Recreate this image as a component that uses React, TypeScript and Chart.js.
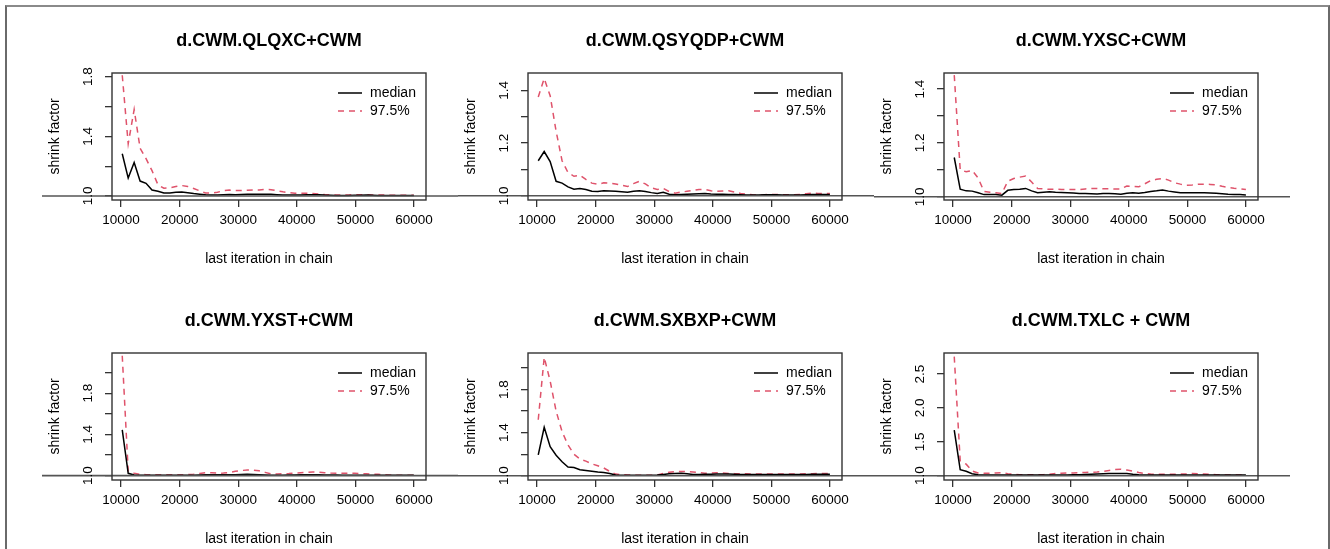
import React, { useEffect, useRef } from "react";
import { Chart, registerables } from "chart.js";

Chart.register(...registerables);

// ---------- data ----------
const ITERATIONS = [
  10200, 11216, 12232, 13248, 14264, 15280, 16296, 17312, 18328, 19344,
  20360, 21376, 22392, 23408, 24424, 25440, 26456, 27472, 28488, 29504,
  30520, 31536, 32552, 33568, 34584, 35600, 36616, 37632, 38648, 39664,
  40680, 41696, 42712, 43728, 44744, 45760, 46776, 47792, 48808, 49824,
  50840, 51856, 52872, 53888, 54904, 55920, 56936, 57952, 58968, 59984,
];

const X_TICKS = [10000, 20000, 30000, 40000, 50000, 60000];

const TITLES = [
  "d.CWM.QLQXC+CWM",
  "d.CWM.QSYQDP+CWM",
  "d.CWM.YXSC+CWM",
  "d.CWM.YXST+CWM",
  "d.CWM.SXBXP+CWM",
  "d.CWM.TXLC + CWM",
];

const QLQXC_MEDIAN = [
  1.283, 1.12, 1.225, 1.1, 1.085, 1.04, 1.032, 1.02, 1.02, 1.025,
  1.026, 1.022, 1.016, 1.012, 1.008, 1.006, 1.007, 1.009, 1.01, 1.009,
  1.01, 1.011, 1.012, 1.011, 1.012, 1.011, 1.009, 1.007, 1.006, 1.006,
  1.007, 1.008, 1.009, 1.008, 1.006, 1.005, 1.004, 1.004, 1.004, 1.005,
  1.005, 1.006, 1.005, 1.004, 1.003, 1.003, 1.003, 1.003, 1.003, 1.003,
];
const QLQXC_Q975 = [
  1.81, 1.35, 1.58, 1.32, 1.25, 1.17, 1.075, 1.052, 1.055, 1.063,
  1.07, 1.064, 1.05, 1.035, 1.02, 1.02, 1.025, 1.035, 1.04, 1.036,
  1.036, 1.038, 1.04, 1.04, 1.045, 1.042, 1.035, 1.028, 1.022, 1.018,
  1.018, 1.018, 1.016, 1.013, 1.01, 1.008, 1.006, 1.006, 1.007, 1.008,
  1.008, 1.008, 1.007, 1.006, 1.006, 1.005, 1.005, 1.005, 1.005, 1.005,
];

const QSYQDP_MEDIAN = [
  1.133, 1.168, 1.13, 1.055, 1.048, 1.034, 1.025, 1.028, 1.024, 1.017,
  1.016, 1.019, 1.018, 1.017, 1.015, 1.013, 1.017, 1.019, 1.016, 1.012,
  1.009, 1.013, 1.006, 1.004, 1.005, 1.006, 1.007, 1.008, 1.009, 1.007,
  1.006, 1.006, 1.005, 1.005, 1.004, 1.003, 1.003, 1.003, 1.004, 1.004,
  1.004, 1.003, 1.003, 1.003, 1.003, 1.004, 1.005, 1.005, 1.005, 1.005,
];
const QSYQDP_Q975 = [
  1.375, 1.445, 1.38, 1.245, 1.133, 1.088, 1.074, 1.078, 1.062, 1.048,
  1.044, 1.049, 1.048, 1.045, 1.04, 1.035, 1.046, 1.055, 1.045, 1.03,
  1.024, 1.028, 1.016, 1.01, 1.014, 1.017, 1.02, 1.024, 1.024, 1.019,
  1.017, 1.018, 1.019, 1.014, 1.009, 1.006, 1.004, 1.003, 1.004, 1.005,
  1.005, 1.004, 1.004, 1.004, 1.005, 1.008, 1.01, 1.009, 1.009, 1.009,
];

const YXSC_MEDIAN = [
  1.146, 1.028, 1.022, 1.021, 1.015, 1.008, 1.008, 1.008, 1.006, 1.024,
  1.027, 1.028, 1.031, 1.022, 1.015, 1.017, 1.019, 1.017, 1.016, 1.015,
  1.014, 1.012, 1.012, 1.011, 1.01, 1.012, 1.012, 1.011, 1.009, 1.013,
  1.015, 1.013, 1.016, 1.02, 1.022, 1.025, 1.021, 1.018, 1.015, 1.015,
  1.015, 1.015, 1.015, 1.014, 1.013, 1.011, 1.009, 1.008, 1.008, 1.007,
];
const YXSC_Q975 = [
  1.452, 1.1, 1.093, 1.098, 1.07, 1.02, 1.017, 1.015, 1.012, 1.058,
  1.068, 1.073, 1.077, 1.055, 1.031, 1.029, 1.028, 1.028, 1.027, 1.027,
  1.027, 1.027, 1.029, 1.031, 1.031, 1.03, 1.03, 1.029, 1.029, 1.04,
  1.039, 1.037, 1.048, 1.06, 1.065, 1.068, 1.062, 1.052, 1.047, 1.043,
  1.044, 1.047, 1.047, 1.046, 1.044, 1.039, 1.035, 1.032, 1.03, 1.027,
];

const YXST_MEDIAN = [
  1.444, 1.023, 1.006, 1.003, 1.003, 1.003, 1.003, 1.003, 1.003, 1.003,
  1.003, 1.004, 1.005, 1.007, 1.009, 1.01, 1.01, 1.009, 1.009, 1.01,
  1.012, 1.013, 1.012, 1.01, 1.007, 1.005, 1.005, 1.005, 1.006, 1.007,
  1.008, 1.009, 1.009, 1.008, 1.007, 1.006, 1.006, 1.005, 1.005, 1.005,
  1.005, 1.004, 1.004, 1.003, 1.003, 1.003, 1.003, 1.003, 1.003, 1.003,
];
const YXST_Q975 = [
  2.163, 1.045, 1.023, 1.013, 1.01, 1.01, 1.01, 1.008, 1.008, 1.008,
  1.009, 1.01, 1.015, 1.022, 1.03, 1.028, 1.024, 1.025, 1.032, 1.042,
  1.05, 1.055, 1.054, 1.047, 1.032, 1.018, 1.016, 1.018, 1.02, 1.024,
  1.028, 1.032, 1.036, 1.034, 1.029, 1.025, 1.023, 1.023, 1.023, 1.023,
  1.02, 1.018, 1.016, 1.013, 1.009, 1.006, 1.005, 1.005, 1.005, 1.005,
];

const SXBXP_MEDIAN = [
  1.193, 1.45, 1.27, 1.19, 1.13, 1.08, 1.076, 1.055, 1.048, 1.042,
  1.035, 1.03, 1.02, 1.007, 1.005, 1.005, 1.005, 1.005, 1.005, 1.005,
  1.006, 1.012, 1.019, 1.021, 1.022, 1.017, 1.012, 1.012, 1.013, 1.014,
  1.015, 1.016, 1.015, 1.013, 1.012, 1.012, 1.012, 1.012, 1.012, 1.012,
  1.012, 1.012, 1.012, 1.012, 1.012, 1.012, 1.013, 1.013, 1.013, 1.013,
];
const SXBXP_Q975 = [
  1.52, 2.1, 1.88, 1.6, 1.41, 1.285, 1.2, 1.155, 1.135, 1.11,
  1.092, 1.072, 1.04, 1.015, 1.009, 1.006, 1.005, 1.005, 1.005, 1.005,
  1.006, 1.02, 1.033, 1.038, 1.04, 1.038, 1.034, 1.028, 1.023, 1.024,
  1.027, 1.026, 1.021, 1.019, 1.018, 1.017, 1.016, 1.016, 1.016, 1.016,
  1.016, 1.016, 1.016, 1.016, 1.016, 1.017, 1.019, 1.022, 1.021, 1.02,
];

const TXLC_MEDIAN = [
  1.674, 1.09, 1.065, 1.03, 1.015, 1.01, 1.01, 1.01, 1.01, 1.01,
  1.01, 1.01, 1.01, 1.01, 1.01, 1.01, 1.01, 1.01, 1.011, 1.012,
  1.014, 1.016, 1.019, 1.022, 1.025, 1.028, 1.032, 1.034, 1.034, 1.032,
  1.022, 1.014, 1.01, 1.01, 1.01, 1.01, 1.01, 1.01, 1.011, 1.012,
  1.012, 1.011, 1.01, 1.01, 1.01, 1.01, 1.01, 1.01, 1.01, 1.01,
];
const TXLC_Q975 = [
  2.756, 1.22, 1.17, 1.07, 1.04, 1.035, 1.036, 1.04, 1.044, 1.03,
  1.02, 1.016, 1.015, 1.015, 1.015, 1.016, 1.022, 1.032, 1.036, 1.04,
  1.042, 1.044, 1.048, 1.051, 1.055, 1.065, 1.078, 1.09, 1.096, 1.083,
  1.066, 1.048, 1.033, 1.026, 1.021, 1.02, 1.021, 1.022, 1.024, 1.026,
  1.033, 1.03, 1.026, 1.022, 1.016, 1.012, 1.01, 1.01, 1.01, 1.01,
];

const Y_MIN = [0.973, 0.984, 0.988, 0.958, 0.96, 0.937];
const Y_MAX = [1.825, 1.466, 1.46, 2.19, 2.14, 2.81];

const Y_TICKS_A1 = [1.0, 1.2, 1.4, 1.6, 1.8];
const Y_TICKS_A = [1.0, 1.2, 1.4, 1.6, 1.8, 2.0];
const Y_TICKS_B = [1.0, 1.1, 1.2, 1.3, 1.4];
const Y_TICKS_C = [1.0, 1.5, 2.0, 2.5];
const Y_LABELS_A = [1.0, 1.4, 1.8];
const Y_LABELS_B = [1.0, 1.2, 1.4];
const Y_LABELS_C = [1.0, 1.5, 2.0, 2.5];

const MEDIANS = [QLQXC_MEDIAN, QSYQDP_MEDIAN, YXSC_MEDIAN, YXST_MEDIAN, SXBXP_MEDIAN, TXLC_MEDIAN];
const Q975S = [QLQXC_Q975, QSYQDP_Q975, YXSC_Q975, YXST_Q975, SXBXP_Q975, TXLC_Q975];
const Y_TICKS = [Y_TICKS_A1, Y_TICKS_B, Y_TICKS_B, Y_TICKS_A, Y_TICKS_A, Y_TICKS_C];
const Y_LABELS = [Y_LABELS_A, Y_LABELS_B, Y_LABELS_B, Y_LABELS_A, Y_LABELS_A, Y_LABELS_C];

const LEGEND_LABELS = ["median", "97.5%"];

// ---------- styling ----------
const FONT = '"Liberation Sans", Arial, Helvetica, sans-serif';
const RED = "#DF536B";
const COL_LEFT = [42, 458, 874];
const CANVAS_W = 416;
const CANVAS_H = 280;

function makeConfig(i: number) {
  const pts = (arr: number[]) => ITERATIONS.map((x, k) => ({ x, y: arr[k] }));
  const decor = {
    id: "gelmanDecor" + i,
    afterDraw(chart: any) {
      const { ctx, chartArea: ca } = chart;
      const ys = chart.scales.y;
      ctx.save();
      // reference line at 1
      const y1 = ys.getPixelForValue(1);
      ctx.beginPath();
      ctx.moveTo(0, y1);
      ctx.lineTo(chart.width, y1);
      ctx.strokeStyle = "#555555";
      ctx.lineWidth = 1.6;
      ctx.stroke();
      // box
      ctx.strokeStyle = "#333333";
      ctx.lineWidth = 1.4;
      ctx.strokeRect(ca.left, ca.top, ca.right - ca.left, ca.bottom - ca.top);
      // rotated y tick labels
      ctx.fillStyle = "#000";
      ctx.font = `13.5px ${FONT}`;
      ctx.textAlign = "center";
      ctx.textBaseline = "middle";
      for (const v of Y_LABELS[i]) {
        ctx.save();
        ctx.translate(ca.left - 24, ys.getPixelForValue(v));
        ctx.rotate(-Math.PI / 2);
        ctx.fillText(v.toFixed(1), 0, 0);
        ctx.restore();
      }
      // title
      ctx.font = `bold 18px ${FONT}`;
      ctx.fillText(TITLES[i], (ca.left + ca.right) / 2, ca.top - 32);
      // legend
      ctx.font = `14px ${FONT}`;
      ctx.textAlign = "left";
      const rows = [
        { label: LEGEND_LABELS[0], color: "#000", dash: [] as number[] },
        { label: LEGEND_LABELS[1], color: RED, dash: [6, 5] },
      ];
      rows.forEach((r, k) => {
        const yy = ca.top + 20 + k * 18;
        ctx.beginPath();
        ctx.setLineDash(r.dash);
        ctx.moveTo(ca.right - 88, yy);
        ctx.lineTo(ca.right - 64, yy);
        ctx.strokeStyle = r.color;
        ctx.lineWidth = 1.5;
        ctx.stroke();
        ctx.setLineDash([]);
        ctx.fillText(r.label, ca.right - 56, yy);
      });
      ctx.restore();
    },
  };
  return {
    type: "line" as const,
    data: {
      datasets: [
        {
          label: LEGEND_LABELS[0],
          data: pts(MEDIANS[i]),
          borderColor: "#000",
          borderWidth: 1.5,
          pointRadius: 0,
          tension: 0,
          fill: false,
        },
        {
          label: LEGEND_LABELS[1],
          data: pts(Q975S[i]),
          borderColor: RED,
          borderWidth: 1.5,
          borderDash: [6, 5],
          pointRadius: 0,
          tension: 0,
          fill: false,
        },
      ],
    },
    options: {
      animation: false,
      responsive: false,
      maintainAspectRatio: false,
      events: [],
      layout: { padding: { left: 0, top: 73, right: 32, bottom: 0 } },
      plugins: {
        legend: { display: false },
        title: { display: false },
        tooltip: { enabled: false },
      },
      scales: {
        x: {
          type: "linear",
          position: "bottom",
          min: 8450,
          max: 62050,
          afterFit: (s: any) => {
            s.height = 80;
          },
          afterBuildTicks: (s: any) => {
            s.ticks = X_TICKS.map((v) => ({ value: v }));
          },
          ticks: {
            font: { family: FONT, size: 13.5 },
            color: "#000",
            padding: 5,
            maxRotation: 0,
            minRotation: 0,
            autoSkip: false,
            callback: (v: any) => String(v),
          },
          grid: {
            drawOnChartArea: false,
            drawTicks: true,
            tickLength: 7,
            color: "#333",
            lineWidth: 1.3,
          },
          border: { display: false },
          title: {
            display: true,
            text: "last iteration in chain",
            font: { family: FONT, size: 14 },
            color: "#000",
            padding: { top: 0, bottom: 12 },
          },
        },
        y: {
          type: "linear",
          position: "left",
          min: Y_MIN[i],
          max: Y_MAX[i],
          afterFit: (s: any) => {
            s.width = 70;
          },
          afterBuildTicks: (s: any) => {
            s.ticks = Y_TICKS[i].map((v) => ({ value: v }));
          },
          ticks: { display: false },
          grid: {
            drawOnChartArea: false,
            drawTicks: true,
            tickLength: 7,
            color: "#333",
            lineWidth: 1.3,
          },
          border: { display: false },
          title: {
            display: true,
            text: "shrink factor",
            font: { family: FONT, size: 14 },
            color: "#000",
            padding: { top: 5, bottom: 0 },
          },
        },
      },
    },
    plugins: [decor],
  };
}

function Panel({ index }: { index: number }) {
  const ref = useRef<HTMLCanvasElement | null>(null);
  useEffect(() => {
    if (!ref.current) return;
    const chart = new Chart(ref.current, makeConfig(index) as any);
    return () => chart.destroy();
  }, [index]);
  const col = index % 3;
  const row = Math.floor(index / 3);
  return (
    <canvas
      ref={ref}
      width={CANVAS_W}
      height={CANVAS_H}
      style={{
        position: "absolute",
        left: COL_LEFT[col],
        top: row * 280,
        width: CANVAS_W,
        height: CANVAS_H,
      }}
    />
  );
}

export default function App() {
  Chart.defaults.font.family = FONT;
  Chart.defaults.color = "#000";
  return (
    <div
      style={{
        position: "absolute",
        left: 0,
        top: 0,
        width: 1330,
        height: 549,
        overflow: "hidden",
        background: "#fff",
      }}
    >
      <div
        style={{
          position: "absolute",
          left: 5,
          top: 5,
          width: 1321,
          height: 600,
          borderLeft: "2px solid #6a6a6a",
          borderTop: "2px solid #8a8a8a",
          borderRight: "2px solid #6a6a6a",
        }}
      />
      {[0, 1, 2, 3, 4, 5].map((i) => (
        <Panel key={i} index={i} />
      ))}
    </div>
  );
}
